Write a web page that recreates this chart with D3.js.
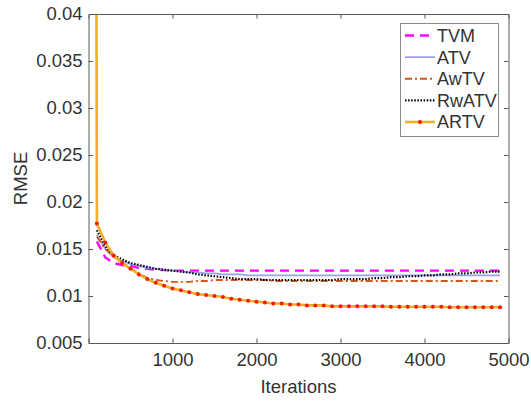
<!DOCTYPE html>
<html>
<head>
<meta charset="utf-8">
<script src="https://cdn.jsdelivr.net/npm/d3@7"></script>
<style>
  html, body { margin: 0; padding: 0; background: #fff; }
  svg { display: block; font-family: "Liberation Sans", Arial, sans-serif; }
</style>
</head>
<body>
<div id="chart"></div>
<script>
// data ------------------------------------------------------------------------
const iterations = [100, 200, 300, 400, 500, 600, 700, 800, 900, 1000,
  1100, 1200, 1300, 1400, 1500, 1600, 1700, 1800, 1900, 2000,
  2100, 2200, 2300, 2400, 2500, 2600, 2700, 2800, 2900, 3000,
  3100, 3200, 3300, 3400, 3500, 3600, 3700, 3800, 3900, 4000,
  4100, 4200, 4300, 4400, 4500, 4600, 4700, 4800, 4900];

const tvm = [0.0158, 0.0141, 0.0135, 0.0133, 0.0132, 0.0130, 0.0129, 0.0128, 0.01275, 0.0127,
  0.0127, 0.0127, 0.0127, 0.0127, 0.0127, 0.0127, 0.0127, 0.0127, 0.0127, 0.0127,
  0.0127, 0.0127, 0.0127, 0.0127, 0.0127, 0.0127, 0.0127, 0.0127, 0.0127, 0.0127,
  0.0127, 0.0127, 0.0127, 0.0127, 0.0127, 0.0127, 0.0127, 0.0127, 0.0127, 0.0127,
  0.0127, 0.0127, 0.0127, 0.0127, 0.0127, 0.0127, 0.0127, 0.0127, 0.0127];

const atv = [0.0165, 0.0150, 0.0141, 0.0137, 0.0134, 0.0132, 0.0130, 0.0129, 0.0128, 0.0127,
  0.0126, 0.0125, 0.0125, 0.0124, 0.0124, 0.0123, 0.0123, 0.0123, 0.0122, 0.0122,
  0.0122, 0.0122, 0.0122, 0.0122, 0.0122, 0.0122, 0.0122, 0.0122, 0.0122, 0.0122,
  0.0122, 0.0122, 0.0122, 0.0122, 0.0122, 0.0122, 0.0122, 0.0122, 0.0122, 0.0122,
  0.0122, 0.0122, 0.0122, 0.0122, 0.0122, 0.0122, 0.0122, 0.0122, 0.0122];

const awtv = [0.0163, 0.0150, 0.0142, 0.0136, 0.0130, 0.0124, 0.0119, 0.0117, 0.0116, 0.0115,
  0.0115, 0.0115, 0.0116, 0.0116, 0.0117, 0.0117, 0.0117, 0.0117, 0.0117, 0.0117,
  0.0117, 0.0116, 0.0116, 0.0116, 0.0116, 0.0116, 0.0116, 0.0116, 0.0116, 0.0116,
  0.0116, 0.0116, 0.0116, 0.0116, 0.0116, 0.0116, 0.0116, 0.0116, 0.0116, 0.0116,
  0.0116, 0.0116, 0.0116, 0.0116, 0.0116, 0.0116, 0.0116, 0.0116, 0.0116];

const rwatv = [0.0170, 0.0153, 0.0143, 0.0139, 0.0135, 0.0133, 0.0131, 0.0129, 0.0128, 0.0127,
  0.0126, 0.0125, 0.0123, 0.0122, 0.0121, 0.0120, 0.0119, 0.0118, 0.0118, 0.0118,
  0.0117, 0.0117, 0.0117, 0.0117, 0.0117, 0.0117, 0.0117, 0.0117, 0.0117, 0.0118,
  0.0118, 0.0118, 0.0118, 0.0119, 0.0119, 0.0120, 0.0120, 0.0121, 0.0121, 0.0122,
  0.0122, 0.0123, 0.0123, 0.0124, 0.0124, 0.0125, 0.0125, 0.0126, 0.0126];

const artvFirstIter = 92;
const artvFirstValue = 0.052;
const artv = [0.0177, 0.0157, 0.0143, 0.0135, 0.0129, 0.0123, 0.0118, 0.0114, 0.0111, 0.0108,
  0.0106, 0.0104, 0.0102, 0.0101, 0.0100, 0.0099, 0.0097, 0.0096, 0.0095, 0.0094,
  0.0093, 0.0092, 0.0092, 0.0091, 0.0091, 0.0090, 0.0090, 0.0090, 0.0089, 0.0089,
  0.0089, 0.0089, 0.0089, 0.0089, 0.0089, 0.00885, 0.00885, 0.00885, 0.00885, 0.00885,
  0.00885, 0.00885, 0.0088, 0.0088, 0.0088, 0.0088, 0.0088, 0.0088, 0.0088];

const seriesNames = ['TVM', 'ATV', 'AwTV', 'RwATV', 'ARTV'];
const xTicks = [1000, 2000, 3000, 4000, 5000];
const yTicks = [0.005, 0.01, 0.015, 0.02, 0.025, 0.03, 0.035, 0.04];

// styles ----------------------------------------------------------------------
const styles = {
  TVM:   { color: '#ff00ff', width: 2.4, dash: '9,6' },
  ATV:   { color: '#9e9ef0', width: 1.7, dash: null },
  AwTV:  { color: '#d95319', width: 1.9, dash: '7,3,2,3' },
  RwATV: { color: '#000000', width: 2.2, dash: '1.5,1.6' },
  ARTV:  { color: '#f0b021', width: 2.6, dash: null }
};

// svg -------------------------------------------------------------------------
const width = 531, height = 402;
const plot = { left: 88.5, right: 508.5, top: 14, bottom: 343 };

const svg = d3.select('#chart').append('svg')
  .attr('width', width)
  .attr('height', height);

const xScale = d3.scaleLinear().domain([0, 5000]).range([plot.left, plot.right]);
const yScale = d3.scaleLinear().domain([0.005, 0.04]).range([plot.bottom, plot.top]);

svg.append('defs').append('clipPath').attr('id', 'clip')
  .append('rect')
  .attr('x', plot.left).attr('y', plot.top)
  .attr('width', plot.right - plot.left).attr('height', plot.bottom - plot.top);

// series ----------------------------------------------------------------------
const toPoints = vals => vals.map((v, i) => ({ x: iterations[i], y: v }));
const seriesData = {
  TVM: toPoints(tvm),
  ATV: toPoints(atv),
  AwTV: toPoints(awtv),
  RwATV: toPoints(rwatv),
  ARTV: [{ x: artvFirstIter, y: artvFirstValue }].concat(toPoints(artv))
};

const line = d3.line().x(d => xScale(d.x)).y(d => yScale(d.y));
const g = svg.append('g').attr('clip-path', 'url(#clip)');

seriesNames.forEach(name => {
  const s = styles[name];
  g.append('path')
    .datum(seriesData[name])
    .attr('fill', 'none')
    .attr('stroke', s.color)
    .attr('stroke-width', s.width)
    .attr('stroke-dasharray', s.dash)
    .attr('d', line);
});

g.selectAll('.marker')
  .data(toPoints(artv))
  .enter().append('circle')
  .attr('class', 'marker')
  .attr('cx', d => xScale(d.x))
  .attr('cy', d => yScale(d.y))
  .attr('r', 2)
  .attr('fill', '#f21c10');

// axes ------------------------------------------------------------------------
const axisColor = '#5a5a5a';
const textColor = '#333333';
const fontSize = '18.5px';
const tickLen = 4.5;

const xAxis = svg.append('g')
  .attr('transform', 'translate(0,' + plot.bottom + ')')
  .call(d3.axisBottom(xScale).tickValues(xTicks).tickSize(-tickLen).tickPadding(10).tickFormat(d3.format('d')));
const yAxis = svg.append('g')
  .attr('transform', 'translate(' + plot.left + ',0)')
  .call(d3.axisLeft(yScale).tickValues(yTicks).tickSize(-tickLen).tickPadding(6).tickFormat(d => String(d)));
const xTop = svg.append('g')
  .attr('transform', 'translate(0,' + plot.top + ')')
  .call(d3.axisTop(xScale).tickValues(xTicks).tickSize(-tickLen).tickFormat(''));
const yRight = svg.append('g')
  .attr('transform', 'translate(' + plot.right + ',0)')
  .call(d3.axisRight(yScale).tickValues(yTicks).tickSize(-tickLen).tickFormat(''));

[xAxis, yAxis, xTop, yRight].forEach(a => {
  a.select('.domain').attr('stroke', axisColor).attr('stroke-width', 1);
  a.selectAll('.tick line').attr('stroke', axisColor);
  a.selectAll('.tick text')
    .attr('fill', textColor)
    .attr('font-size', fontSize)
    .attr('font-family', '"Liberation Sans", Arial, sans-serif');
});
// hide the end ticks that sit on the box
xAxis.selectAll('.tick').filter(d => d === 5000).select('line').remove();
xTop.selectAll('.tick').filter(d => d === 5000).remove();
yAxis.selectAll('.tick').filter(d => d === 0.005 || d === 0.04).select('line').remove();
yRight.selectAll('.tick').filter(d => d === 0.005 || d === 0.04).remove();

// axis labels -----------------------------------------------------------------
svg.append('text')
  .attr('x', (plot.left + plot.right) / 2)
  .attr('y', 393)
  .attr('text-anchor', 'middle')
  .attr('fill', textColor)
  .attr('font-size', fontSize)
  .text('Iterations');

svg.append('text')
  .attr('transform', 'translate(27,' + ((plot.top + plot.bottom) / 2) + ') rotate(-90)')
  .attr('text-anchor', 'middle')
  .attr('fill', textColor)
  .attr('font-size', fontSize)
  .text('RMSE');

// legend ----------------------------------------------------------------------
const legend = svg.append('g');
legend.append('rect')
  .attr('x', 400.5).attr('y', 23.5)
  .attr('width', 98).attr('height', 113)
  .attr('fill', '#fff')
  .attr('stroke', '#8a8a8a')
  .attr('stroke-width', 1);

const rowY = d3.scalePoint().domain(seriesNames).range([35.5, 122]);
seriesNames.forEach(name => {
  const s = styles[name];
  const y = rowY(name);
  legend.append('line')
    .attr('x1', 405).attr('x2', 435)
    .attr('y1', y).attr('y2', y)
    .attr('stroke', s.color)
    .attr('stroke-width', s.width)
    .attr('stroke-dasharray', s.dash);
  if (name === 'ARTV') {
    legend.append('circle').attr('cx', 420).attr('cy', y).attr('r', 2).attr('fill', '#f21c10');
  }
  legend.append('text')
    .attr('x', 437)
    .attr('y', y)
    .attr('dy', '0.36em')
    .attr('fill', textColor)
    .attr('font-size', '18px')
    .text(name);
});
</script>
</body>
</html>
